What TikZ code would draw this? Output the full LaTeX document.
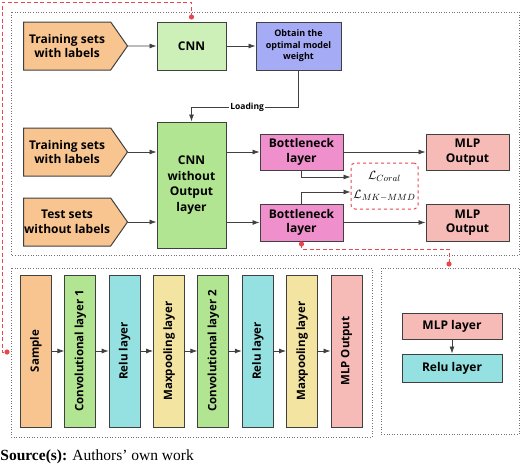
\documentclass[tikz,border=0pt]{standalone}
\usepackage{fontspec}
\setmainfont{Liberation Serif}
\newfontfamily\boxfont{Open Sans}
\usetikzlibrary{shapes.symbols,arrows.meta}

\definecolor{dataC}{HTML}{F8C591}
\definecolor{cnnA}{HTML}{CDEFB8}
\definecolor{cnnB}{HTML}{B2E592}
\definecolor{obtainC}{HTML}{A6ABF5}
\definecolor{bneckC}{HTML}{EF90CC}
\definecolor{mlpC}{HTML}{F6BAB7}
\definecolor{reluC}{HTML}{95E0E0}
\definecolor{maxpC}{HTML}{F3E4A2}
\definecolor{linkC}{HTML}{E8474C}

\begin{document}
\begin{tikzpicture}[x=1pt, y=-1pt, ->, >={Latex[length=7pt,width=5pt]},
      line width=0.8pt, draw=black!75,
      every node/.append style={font=\boxfont\bfseries\fontsize{12}{14.5}\selectfont, align=center, inner sep=0pt},
      box/.style={draw=black!75, line width=1pt, rectangle},
      data/.style={box, signal, signal to=east, signal pointer angle=110, fill=dataC,
        minimum width=104pt, minimum height=48pt, anchor=west},
      layer/.style={box, rotate=90, minimum width=152pt, minimum height=31pt,
        font=\boxfont\bfseries\fontsize{11.5}{14}\selectfont},
      frame/.style={-, draw=black!55, line width=0.6pt, dotted},
      link/.style={-, draw=linkC, line width=1pt, dash pattern=on 4pt off 2.5pt}]
    \useasboundingbox (0,0) rectangle (520,466);

    % dotted frames
    \draw[frame] (11,12) rectangle (519,255);
    \draw[frame] (11,268) rectangle (372,437);
    \draw[frame] (381,268) rectangle (519,434);

    % pretraining
    \node (train1) [data] at (23,46) {Training sets\\with labels};
    \node (cnn1) [box, fill=cnnA, minimum width=69pt, minimum height=48pt] at (191.5,46) {CNN};
    \node (obtain) [box, fill=obtainC, minimum width=85pt, minimum height=48pt,
      font=\boxfont\bfseries\fontsize{9}{11.5}\selectfont] at (298.5,46) {Obtain the\\optimal model\\weight};
    \draw (train1) -- (cnn1);
    \draw (cnn1) -- (obtain);

    % transfer
    \node (train2) [data] at (23,152) {Training sets\\with labels};
    \node (test) [data] at (23,222) {Test sets\\without labels};
    \node (cnn2) [box, fill=cnnB, minimum width=69pt, minimum height=126pt,
      font=\boxfont\bfseries\fontsize{12}{15.5}\selectfont] at (191.5,185) {CNN\\without\\Output\\layer};
    \node (bn1) [box, fill=bneckC, minimum width=83pt, minimum height=36pt] at (301.5,152) {Bottleneck\\layer};
    \node (bn2) [box, fill=bneckC, minimum width=83pt, minimum height=37pt] at (301.5,222.5) {Bottleneck\\layer};
    \node (out1) [box, fill=mlpC, minimum width=83pt, minimum height=36pt] at (467.5,152) {MLP\\Output};
    \node (out2) [box, fill=mlpC, minimum width=83pt, minimum height=37pt] at (467.5,222.5) {MLP\\Output};
    \node (loss) [draw=linkC, line width=1pt, dashed, rounded corners=4pt,
      minimum width=67pt, minimum height=46pt, font=\fontsize{13}{19}\selectfont] at (384.5,186)
      {$\mathcal{L}_{Coral}$\\$\mathcal{L}_{MK-MMD}$};
    \coordinate (load) at (191.5,107);
    \draw (obtain.south) |- node[fill=white, inner xsep=1pt, pos=0.74,
      font=\boxfont\bfseries\fontsize{8.5}{10}\selectfont] {Loading} (load) -- (cnn2.north);
    \draw (train2.east) -- (train2.east -| cnn2.west);
    \draw (test.east) -- (test.east -| cnn2.west);
    \draw (cnn2.east |- bn1) -- (bn1);
    \draw (cnn2.east |- bn2) -- (bn2);
    \draw (bn1) -- (out1);
    \draw (bn2) -- (out2);
    \draw (bn1.south) |- ([yshift=9pt]loss.west);
    \draw (bn2.north) |- ([yshift=-6pt]loss.west);

    % CNN structure
    \node (sample) [layer, fill=dataC] at (36,351) {Sample};
    \node (conv1) [layer, fill=cnnB] at (80.4,351) {Convolutional layer 1};
    \node (relu1) [layer, fill=reluC] at (124.7,351) {Relu layer};
    \node (pool1) [layer, fill=maxpC] at (169.1,351) {Maxpooling layer};
    \node (conv2) [layer, fill=cnnB] at (213.4,351) {Convolutional layer 2};
    \node (relu2) [layer, fill=reluC] at (257.8,351) {Relu layer};
    \node (pool2) [layer, fill=maxpC] at (302.1,351) {Maxpooling layer};
    \node (mlpout) [layer, fill=mlpC] at (346.5,351) {MLP Output};
    \draw (sample) edge (conv1) (conv1) edge (relu1) (relu1) edge (pool1) (pool1) edge (conv2)
      (conv2) edge (relu2) (relu2) edge (pool2) (pool2) edge (mlpout);

    % MLP structure
    \node (mlp) [box, fill=mlpC, minimum width=100pt, minimum height=26pt] at (452,326) {MLP layer};
    \node (relu3) [box, fill=reluC, minimum width=100pt, minimum height=28pt] at (452,368) {Relu layer};
    \draw (mlp) -- (relu3);

    % links between parts
    \coordinate (dotA) at (191.5,17);
    \coordinate (dotB) at (7,352);
    \coordinate (dotC) at (301.5,244);
    \coordinate (dotD) at (449,264);
    \draw[link] (dotA) |- (2,2) |- (dotB);
    \draw[link] (dotC) -- ++(0,5) -| (dotD);
    \foreach \d in {dotA,dotB,dotC,dotD} \fill[linkC] (\d) circle (2.6pt);

    \node (source) [anchor=base west, font=\fontsize{15.5}{17}\selectfont] at (0,460)
      {\textbf{Source(s):} Authors’ own work};
\end{tikzpicture}
\end{document}
